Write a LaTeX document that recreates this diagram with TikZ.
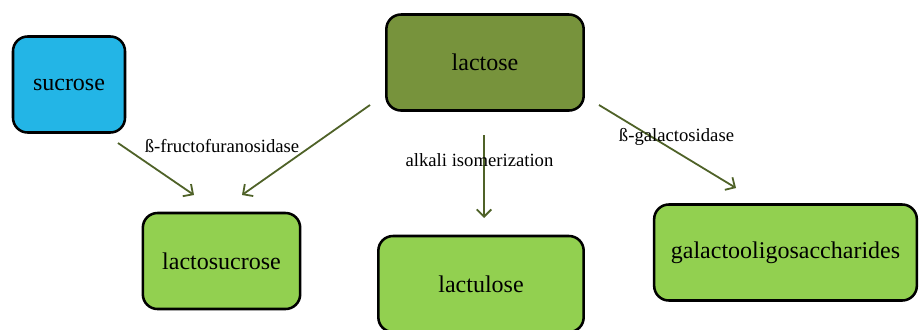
\documentclass[tikz,border=0pt]{standalone}
\usepackage{fontspec}
\setmainfont{Liberation Serif}
\usetikzlibrary{arrows.meta}

\definecolor{sucroseblue}{RGB}{35,181,230}
\definecolor{lactoseolive}{RGB}{119,147,60}
\definecolor{productgreen}{RGB}{146,208,80}
\definecolor{arrowolive}{RGB}{79,98,40}

\tikzset{
  sugarbox/.style={draw=black, line width=1.9pt, rounded corners=11pt,
    minimum height=72pt, inner sep=2pt, font=\fontsize{18}{21}\selectfont},
  enzymearrow/.style={draw=arrowolive, line width=1.35pt,
    -{Straight Barb[length=5.5pt,width=11pt,line width=1.35pt]}},
  enzymelabel/.style={inner sep=0pt, font=\fontsize{14}{16}\selectfont}
}

\begin{document}
\begin{tikzpicture}[x=0.75pt,y=0.75pt,yscale=-1,xscale=1]
\useasboundingbox (0,0) rectangle (919,329);

% sugars
\node[sugarbox, fill=sucroseblue, minimum width=84pt] (sucrose) at (69,84.5) {sucrose};
\node[sugarbox, fill=lactoseolive, minimum width=148pt] (lactose) at (485,62.5) {lactose};
\node[sugarbox, fill=productgreen, minimum width=118pt] (lactosucrose) at (221.5,261) {lactosucrose};
\node[sugarbox, fill=productgreen, minimum width=154pt] (lactulose) at (481,284) {lactulose};
\node[sugarbox, fill=productgreen, minimum width=197pt] (gos) at (785.5,252.5) {galactooligosaccharides};

% arrow ends
\coordinate (fruA) at (118,143);
\coordinate (fruB) at (194,195);
\coordinate (lacA) at (370,105);
\coordinate (lacB) at (242,195);
\coordinate (isoA) at (484,135);
\coordinate (isoB) at (484,218);
\coordinate (galA) at (599,105);
\coordinate (galB) at (736,188);

\draw[enzymearrow] (fruA) -- (fruB);
\draw[enzymearrow] (lacA) -- (lacB);
\draw[enzymearrow] (isoA) -- (isoB);
\draw[enzymearrow] (galA) -- (galB);

% enzyme labels
\node[enzymelabel] (fructo) at (222,146) {ß-fructofuranosidase};
\node[enzymelabel] (alkali) at (479.5,160.5) {alkali isomerization};
\node[enzymelabel] (galacto) at (676.5,137) {ß-galactosidase};

\end{tikzpicture}
\end{document}
